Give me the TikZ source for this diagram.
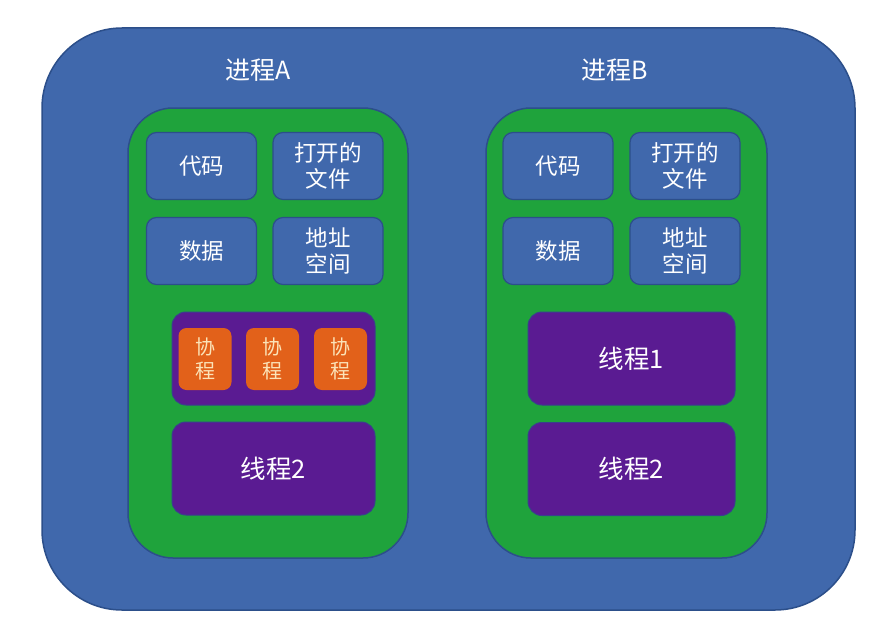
\documentclass[tikz,border=0pt]{standalone}
\usepackage{fontspec}
\setmainfont{Noto Sans CJK SC}
\usepackage{xcolor}
\usetikzlibrary{positioning}

\definecolor{procBlue}{HTML}{4068AC}
\definecolor{edgeBlue}{HTML}{2C4F8A}
\definecolor{resGreen}{HTML}{1FA33C}
\definecolor{threadPurple}{HTML}{5A1B92}
\definecolor{coOrange}{HTML}{E2611A}
\definecolor{coText}{HTML}{FBE3B8}

\tikzset{
	outerbox/.style={draw=edgeBlue, line width=1.5pt, fill=procBlue, rounded corners=80pt, inner sep=0pt},
	greenbox/.style={draw=edgeBlue, line width=1.5pt, fill=resGreen, rounded corners=45pt, inner sep=0pt},
	resbox/.style={draw=edgeBlue, line width=1.2pt, fill=procBlue, rounded corners=10pt, inner sep=0pt,
		minimum width=110pt, minimum height=67pt, align=center, text=white, font=\fontsize{22.5}{26.5}\selectfont},
	threadbox/.style={draw=edgeBlue!70!threadPurple, line width=1pt, fill=threadPurple, rounded corners=14pt, inner sep=0pt,
		minimum height=93pt, text=white, font=\fontsize{25.5}{30}\selectfont},
	cobox/.style={fill=coOrange, rounded corners=8pt, inner sep=0pt, minimum width=53pt, minimum height=62pt,
		align=center, text=coText, font=\fontsize{20}{23.5}\selectfont},
	title/.style={text=white, font=\fontsize{25}{30}\selectfont}
}

\begin{document}
\begin{tikzpicture}[x=1pt, y=-1pt]
	\useasboundingbox (0,0) rectangle (886,626);

	% process frame
	\node [outerbox, minimum width=813pt, minimum height=582pt] (outer) at (448.5,319) {};

	% process A
	\begin{scope}
		\node [title] (titleA) at (258,70) {进程A};
		\node [greenbox, minimum width=280pt, minimum height=450pt] (procA) at (268,333) {};
		\node [resbox] (codeA) at (201.5,166) {代码};
		\node [resbox] (fileA) at (328,166) {打开的\\文件};
		\node [resbox] (dataA) at (201.5,251) {数据};
		\node [resbox] (addrA) at (328,251) {地址\\空间};
		\node [threadbox, minimum width=203pt] (threadAa) at (273.5,358.5) {};
		\foreach \x [count=\i] in {205,272.5,340.5}
			\node [cobox] (coA\i) at (\x,359) {协\\程};
		\node [threadbox, minimum width=203pt] (threadAb) at (273.5,468.5) {线程2};
	\end{scope}

	% process B
	\begin{scope}
		\node [title] (titleB) at (615,70) {进程B};
		\node [greenbox, minimum width=281pt, minimum height=450pt] (procB) at (626.5,333) {};
		\node [resbox] (codeB) at (558,166) {代码};
		\node [resbox] (fileB) at (685,166) {打开的\\文件};
		\node [resbox] (dataB) at (558,251) {数据};
		\node [resbox] (addrB) at (685,251) {地址\\空间};
		\node [threadbox, minimum width=207pt] (threadBa) at (631.5,358.5) {线程1};
		\node [threadbox, minimum width=207pt] (threadBb) at (631.5,469) {线程2};
	\end{scope}
\end{tikzpicture}
\end{document}
